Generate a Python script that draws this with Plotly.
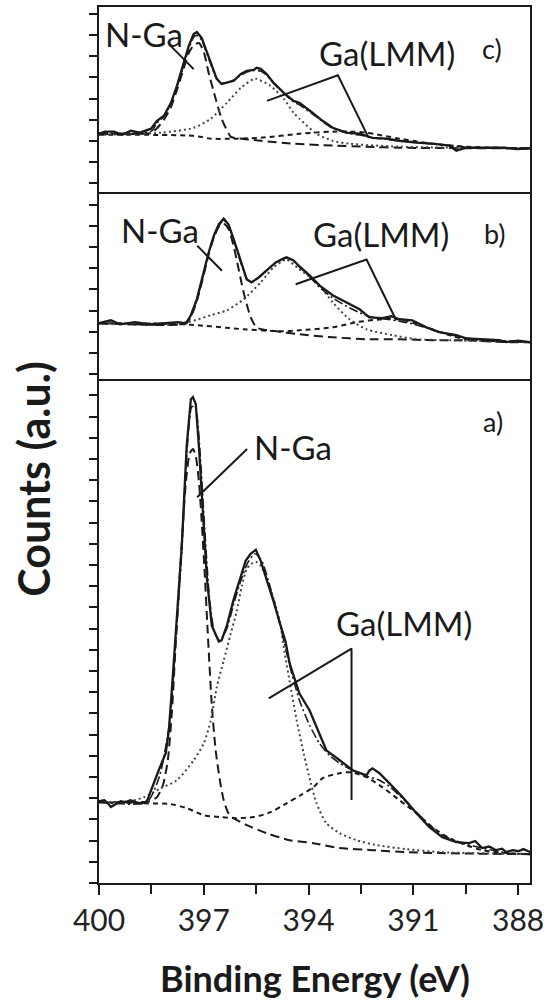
import plotly.graph_objects as go
from plotly.subplots import make_subplots

# ---------------- data (binding energy in eV, counts in a.u.) ----------------
# panel a)
a_meas_ev = [400.00, 399.85, 399.75, 399.66, 399.50, 399.38, 399.26, 399.10, 398.92, 398.77, 398.63,
             398.51, 398.29, 398.09, 398.00, 397.91, 397.80, 397.63, 397.49, 397.37, 397.31, 397.23,
             397.14, 397.06, 396.91, 396.77, 396.57, 396.49, 396.34, 396.14, 395.94, 395.80, 395.66,
             395.51, 395.37, 395.20, 395.00, 394.80, 394.66, 394.54, 394.26, 393.97, 393.77, 393.49,
             393.11, 392.74, 392.34, 392.26, 392.17, 391.97, 391.69, 391.31, 390.91, 390.54, 390.17,
             389.77, 389.40, 389.23, 389.03, 388.83, 388.63, 388.46, 388.34, 388.15, 388.00, 387.85, 387.66]
a_meas = [3.86, 3.91, 3.77, 3.58, 3.74, 3.86, 3.81, 3.90, 3.80, 3.76, 3.85,
          4.38, 5.32, 6.12, 7.20, 9.22, 11.91, 15.91, 20.61, 22.82, 22.92, 22.59,
          20.61, 18.26, 14.35, 12.14, 11.39, 11.44, 12.14, 13.41, 14.49, 15.20, 15.53,
          15.72, 15.20, 14.35, 13.27, 12.14, 11.39, 10.35, 8.94, 8.14, 7.34, 6.26,
          5.79, 5.32, 5.08, 5.30, 5.41, 5.18, 4.71, 4.05, 3.29, 2.64, 2.16,
          1.93, 1.88, 1.98, 1.65, 1.72, 1.55, 1.62, 1.46, 1.55, 1.50, 1.60, 1.46]

a_env_ev = [400.00, 398.63, 398.26, 397.97, 397.80, 397.63, 397.49, 397.34, 397.23, 397.11, 396.97,
            396.83, 396.69, 396.54, 396.34, 396.14, 395.94, 395.74, 395.54, 395.34, 395.11, 394.83,
            394.54, 394.26, 393.97, 393.69, 393.40, 393.11, 392.74, 392.34, 391.97, 391.69, 391.31,
            390.91, 390.54, 390.17, 389.77, 389.40, 389.03, 388.63, 388.34, 387.66]
a_env = [3.81, 3.81, 5.08, 7.67, 11.44, 15.67, 20.14, 22.49, 22.35, 20.38, 16.61,
         13.32, 11.81, 11.44, 12.00, 13.18, 14.26, 15.11, 15.53, 15.20, 14.02, 12.28,
         10.26, 8.61, 7.44, 6.59, 6.02, 5.65, 5.32, 5.04, 4.85, 4.56, 4.00,
         3.34, 2.73, 2.26, 1.98, 1.79, 1.65, 1.51, 1.41, 1.36]

a_nga_ev = [400.00, 398.54, 398.34, 398.17, 398.03, 397.91, 397.80, 397.66, 397.51, 397.40, 397.31,
            397.23, 397.14, 397.06, 396.97, 396.89, 396.77, 396.66, 396.54, 396.43, 396.31, 396.20,
            395.77, 395.20, 394.54, 393.86, 393.11, 392.17, 391.20, 390.26, 387.66]
a_nga = [3.81, 3.86, 4.05, 4.61, 5.79, 8.14, 11.44, 15.20, 18.96, 20.28, 20.47,
         20.14, 18.96, 17.08, 14.49, 11.91, 8.38, 6.26, 4.85, 3.91, 3.34, 3.11,
         2.73, 2.35, 2.02, 1.88, 1.65, 1.55, 1.46, 1.41, 1.36]

a_ga1_ev = [400.00, 399.11, 398.71, 398.23, 397.77, 397.29, 397.00, 396.80, 396.63, 396.43, 396.23,
            396.06, 395.91, 395.77, 395.63, 395.51, 395.37, 395.20, 395.00, 394.80, 394.69, 394.51,
            394.34, 394.14, 393.94, 393.77, 393.49, 393.11, 392.63, 392.06, 391.20, 390.26, 389.31, 387.66]
a_ga1 = [3.81, 3.86, 4.05, 4.47, 4.85, 5.79, 6.59, 7.67, 9.22, 10.49, 11.76,
         12.80, 14.02, 14.82, 15.06, 15.15, 14.96, 14.35, 13.41, 12.14, 10.90, 9.22,
         7.67, 6.12, 4.75, 3.76, 2.82, 2.35, 2.02, 1.79, 1.60, 1.46, 1.41, 1.36]

a_ga2_ev = [400.00, 398.71, 397.94, 397.49, 397.00, 396.51, 396.06, 395.57, 395.09, 394.63, 394.23,
            393.86, 393.60, 393.11, 392.77, 392.34, 391.89, 391.40, 390.91, 390.46, 389.97, 389.49,
            389.03, 388.34, 387.66]
a_ga2 = [3.81, 3.76, 3.72, 3.53, 3.20, 3.11, 3.06, 3.11, 3.34, 3.76, 4.14,
         4.52, 4.94, 5.18, 5.22, 4.99, 4.52, 3.91, 3.29, 2.64, 2.12, 1.79,
         1.55, 1.41, 1.36]

# panel b)
b_meas_ev = [400.00, 399.66, 399.40, 398.97, 398.54, 398.11, 397.74, 397.51, 397.37, 397.20, 397.00,
             396.86, 396.71, 396.57, 396.43, 396.29, 396.14, 395.94, 395.77, 395.63, 395.43, 395.20,
             394.94, 394.71, 394.63, 394.43, 394.26, 393.97, 393.69, 393.31, 392.91, 392.54, 392.26,
             391.89, 391.63, 391.40, 391.03, 390.63, 390.26, 389.77, 389.49, 389.03, 388.54, 388.34,
             388.00, 387.66]
b_meas = [2.40, 2.54, 2.35, 2.45, 2.35, 2.40, 2.45, 2.40, 2.78, 3.53, 4.80,
          5.74, 6.54, 7.06, 7.34, 7.06, 6.35, 5.27, 4.47, 4.33, 4.56, 4.89,
          5.27, 5.46, 5.51, 5.36, 5.08, 4.66, 4.19, 3.72, 3.39, 3.06, 2.68,
          2.64, 2.73, 2.59, 2.54, 2.21, 1.98, 1.84, 1.69, 1.65, 1.60, 1.51,
          1.58, 1.51]

b_env_ev = [400.00, 397.51, 397.37, 397.20, 397.00, 396.86, 396.71, 396.57, 396.43, 396.29, 396.14,
            395.94, 395.77, 395.63, 395.43, 395.20, 394.94, 394.71, 394.63, 394.43, 394.26, 393.97,
            393.69, 393.31, 392.91, 392.54, 392.26, 391.89, 391.40, 391.03, 390.63, 390.26, 389.77,
            389.49, 389.03, 388.54, 387.66]
b_env = [2.40, 2.40, 2.75, 3.50, 4.75, 5.70, 6.50, 7.00, 7.25, 7.00, 6.30,
         5.25, 4.50, 4.35, 4.55, 4.90, 5.25, 5.45, 5.48, 5.33, 5.05, 4.60,
         4.10, 3.60, 3.20, 2.90, 2.72, 2.62, 2.50, 2.38, 2.18, 1.98, 1.80,
         1.70, 1.62, 1.58, 1.52]

b_nga_ev = [400.00, 397.51, 397.37, 397.20, 397.00, 396.86, 396.71, 396.57, 396.43, 396.29, 396.14,
            396.06, 395.86, 395.66, 395.49, 395.20, 394.91, 394.26, 393.31, 392.34, 391.40, 390.46,
            389.49, 388.34, 387.66]
b_nga = [2.40, 2.40, 2.70, 3.45, 4.70, 5.65, 6.45, 6.95, 7.10, 6.85, 6.00,
         5.41, 3.86, 2.70, 2.20, 2.08, 2.02, 1.88, 1.74, 1.65, 1.65, 1.60,
         1.60, 1.51, 1.51]

b_ga1_ev = [400.00, 397.49, 396.80, 396.34, 395.86, 395.37, 395.00, 394.71, 394.63, 394.26, 393.77,
            393.31, 392.83, 392.34, 391.60, 390.91, 389.97, 387.66]
b_ga1 = [2.40, 2.45, 2.78, 3.01, 3.53, 4.33, 5.04, 5.36, 5.41, 4.94, 4.33,
         3.39, 2.59, 2.12, 1.84, 1.65, 1.60, 1.51]

b_ga2_ev = [400.00, 397.57, 395.86, 394.71, 394.26, 393.31, 392.63, 391.89, 391.40, 390.63, 389.97,
            389.49, 387.66]
b_ga2 = [2.40, 2.35, 2.12, 2.02, 2.07, 2.21, 2.45, 2.59, 2.59, 2.21, 1.84,
         1.65, 1.51]

# panel c)
c_meas_ev = [400.00, 399.83, 399.57, 399.34, 399.09, 398.83, 398.51, 398.34, 398.14, 397.94, 397.77,
             397.57, 397.43, 397.29, 397.20, 397.06, 396.91, 396.77, 396.63, 396.49, 396.34, 396.14,
             395.94, 395.77, 395.57, 395.49, 395.37, 395.20, 395.00, 394.71, 394.43, 394.26, 393.89,
             393.60, 393.31, 392.91, 392.54, 392.17, 391.77, 391.40, 390.91, 390.46, 389.97, 389.77,
             389.49, 389.03, 388.40, 388.05, 387.66]
c_meas = [2.34, 2.44, 2.44, 2.29, 2.48, 2.39, 2.58, 2.95, 3.19, 3.80, 4.60,
          5.68, 6.48, 7.05, 7.14, 6.86, 6.15, 5.54, 4.93, 4.69, 4.74, 4.84,
          5.16, 5.31, 5.35, 5.45, 5.40, 5.16, 4.74, 4.27, 3.89, 3.80, 3.33,
          2.95, 2.62, 2.39, 2.34, 2.15, 2.11, 2.01, 1.92, 1.87, 1.78, 1.54,
          1.68, 1.68, 1.68, 1.62, 1.65]

c_env_ev = [400.00, 398.51, 398.34, 398.14, 397.94, 397.77, 397.57, 397.43, 397.29, 397.20, 397.06,
            396.91, 396.77, 396.63, 396.49, 396.34, 396.14, 395.94, 395.77, 395.57, 395.37, 395.20,
            395.00, 394.71, 394.43, 394.26, 393.89, 393.60, 393.31, 392.91, 392.54, 392.17, 391.77,
            391.40, 390.91, 390.46, 389.97, 389.49, 389.03, 387.66]
c_env = [2.38, 2.45, 2.85, 3.15, 3.75, 4.55, 5.60, 6.35, 6.90, 6.98, 6.75,
         6.10, 5.50, 4.95, 4.72, 4.75, 4.88, 5.10, 5.25, 5.32, 5.30, 5.10,
         4.72, 4.25, 3.85, 3.70, 3.28, 2.92, 2.60, 2.38, 2.28, 2.15, 2.08,
         2.00, 1.92, 1.86, 1.78, 1.70, 1.68, 1.65]

c_nga_ev = [400.00, 398.51, 398.34, 398.14, 397.94, 397.77, 397.57, 397.43, 397.29, 397.14, 397.00,
            396.86, 396.66, 396.49, 396.23, 396.14, 395.37, 394.43, 393.31, 392.34, 391.40, 387.66]
c_nga = [2.34, 2.38, 2.60, 3.00, 3.60, 4.40, 5.45, 6.15, 6.52, 6.62, 6.20,
         5.21, 3.99, 3.05, 2.20, 2.15, 2.01, 1.87, 1.78, 1.73, 1.68, 1.65]

c_ga1_ev = [400.00, 398.23, 397.29, 396.80, 396.34, 395.94, 395.57, 395.49, 395.09, 394.71, 394.43,
            394.26, 393.77, 393.31, 392.83, 391.40, 387.66]
c_ga1 = [2.29, 2.39, 2.62, 3.05, 3.80, 4.50, 4.93, 4.93, 4.60, 3.99, 3.33,
         3.05, 2.34, 2.01, 1.87, 1.73, 1.65]

c_ga2_ev = [400.00, 397.29, 396.80, 396.06, 395.37, 394.26, 393.31, 392.83, 392.34, 391.40, 390.46,
            389.49, 387.66]
c_ga2 = [2.29, 2.24, 2.11, 2.11, 2.15, 2.34, 2.44, 2.44, 2.39, 2.11, 1.87,
         1.73, 1.65]

# x-axis ticks
x_tick_vals = [400, 397, 394, 391, 388]
x_tick_text = ["400", "397", "394", "391", "388"]

# labels: (text, x eV, y counts)
panel_labels = {
    "c": [("N-Ga", 398.71, 7.05), ("Ga(LMM)", 391.76, 6.13), ("c)", 388.76, 6.36)],
    "b": [("N-Ga", 398.24, 6.80), ("Ga(LMM)", 391.94, 6.59), ("b)", 388.66, 6.62)],
    "a": [("N-Ga", 394.45, 20.55), ("Ga(LMM)", 391.26, 12.28), ("a)", 388.71, 21.79)],
}
# leader lines: list of polylines (eV list, counts list)
leaders = {
    "c": [([397.97, 397.29], [6.52, 5.39]), ([395.19, 393.16, 392.31], [3.89, 5.10, 2.25])],
    "b": [([397.19, 396.48], [6.06, 4.88]), ([394.37, 392.34, 391.49], [4.24, 5.41, 2.54])],
    "a": [([397.19, 395.76], [18.20, 20.47]), ([395.14, 392.77, 392.77], [8.71, 11.06, 3.91])],
}

# ---------------- figure ----------------
FONT = "Lato, 'Open Sans', sans-serif"
INK = "#1a1a1a"

fig = make_subplots(rows=3, cols=1, shared_xaxes=True, vertical_spacing=0)

panels = {
    "c": (1, c_meas_ev, c_meas, c_env_ev, c_env, c_nga_ev, c_nga, c_ga1_ev, c_ga1, c_ga2_ev, c_ga2),
    "b": (2, b_meas_ev, b_meas, b_env_ev, b_env, b_nga_ev, b_nga, b_ga1_ev, b_ga1, b_ga2_ev, b_ga2),
    "a": (3, a_meas_ev, a_meas, a_env_ev, a_env, a_nga_ev, a_nga, a_ga1_ev, a_ga1, a_ga2_ev, a_ga2),
}

for key, (row, mx, my, ex, ey, nx, ny, g1x, g1y, g2x, g2y) in panels.items():
    fig.add_trace(go.Scatter(x=g2x, y=g2y, mode="lines", line_shape="spline",
                             line=dict(color=INK, width=2, dash="5px,4px", smoothing=0.8)), row=row, col=1)
    fig.add_trace(go.Scatter(x=nx, y=ny, mode="lines", line_shape="spline",
                             line=dict(color=INK, width=2, dash="9px,5px", smoothing=0.6)), row=row, col=1)
    fig.add_trace(go.Scatter(x=g1x, y=g1y, mode="lines", line_shape="spline",
                             line=dict(color="#444444", width=2, dash="2px,3px", smoothing=0.7)), row=row, col=1)
    fig.add_trace(go.Scatter(x=ex, y=ey, mode="lines", line_shape="spline",
                             line=dict(color=INK, width=1.6, dash="9px,3px,2px,3px", smoothing=0.6)), row=row, col=1)
    fig.add_trace(go.Scatter(x=mx, y=my, mode="lines",
                             line=dict(color=INK, width=2.3)), row=row, col=1)
    for lx, ly in leaders[key]:
        fig.add_trace(go.Scatter(x=lx, y=ly, mode="lines",
                                 line=dict(color=INK, width=2)), row=row, col=1)
    for txt, tx, ty in panel_labels[key]:
        size = 27 if (txt.endswith(")") and len(txt) == 2) else 33
        fig.add_annotation(x=tx, y=ty, text=txt, showarrow=False, row=row, col=1,
                           xanchor="center", yanchor="middle",
                           font=dict(family=FONT, size=size, color=INK))

# axes: only the top panel mirrors its x line, so panel separators are single lines
fig.update_xaxes(range=[400, 387.66], showline=True, linewidth=2, linecolor=INK,
                 showgrid=False, zeroline=False)
fig.update_xaxes(ticks="", showticklabels=False, mirror=True, row=1, col=1)
fig.update_xaxes(ticks="", showticklabels=False, mirror=False, row=2, col=1)
fig.update_xaxes(ticks="outside", ticklen=10, tickwidth=2, tickcolor=INK, mirror=False,
                 tickmode="array", tickvals=x_tick_vals, ticktext=x_tick_text, showticklabels=True,
                 tickfont=dict(family=FONT, size=30, color="#222222"),
                 minor=dict(ticks="outside", ticklen=9, tickwidth=2, tickcolor=INK,
                            tickmode="linear", tick0=400, dtick=1.5),
                 row=3, col=1)
fig.update_yaxes(showline=True, mirror=True, linewidth=2, linecolor=INK, showgrid=False, zeroline=False,
                 ticks="outside", ticklen=8, tickwidth=2, tickcolor=INK, showticklabels=False,
                 tickmode="linear", tick0=0, dtick=1)

fig.update_layout(
    width=549, height=1007,
    margin=dict(l=99, r=18, t=5, b=124),
    plot_bgcolor="white", paper_bgcolor="white",
    showlegend=False,
    yaxis=dict(domain=[0.7893, 1.0], range=[-0.388, 8.32]),
    yaxis2=dict(domain=[0.5757, 0.7893], range=[-0.212, 8.61]),
    yaxis3=dict(domain=[0.0, 0.5757], range=[0.0, 23.79]),
)

fig.add_annotation(xref="paper", yref="paper", x=0.5, y=-0.108, text="<b>Binding Energy (eV)</b>",
                   showarrow=False, xanchor="center", yanchor="middle",
                   font=dict(family=FONT, size=36, color=INK))
fig.add_annotation(xref="paper", yref="paper", x=-0.152, y=0.462, text="<b>Counts (a.u.)</b>",
                   showarrow=False, textangle=-90, xanchor="center", yanchor="middle",
                   font=dict(family=FONT, size=43, color=INK))

fig.write_html("out.html")
